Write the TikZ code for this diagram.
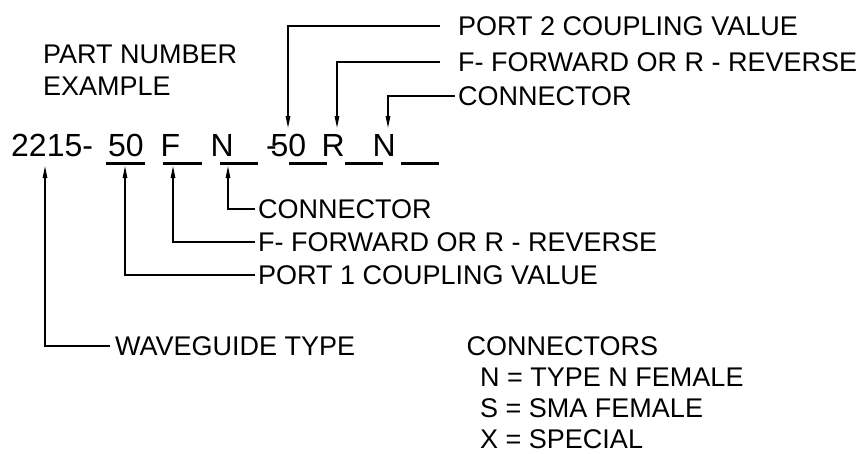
\documentclass[tikz,border=0pt]{standalone}
\usepackage{fontspec}
\setmainfont{Liberation Sans}
\usetikzlibrary{positioning, arrows.meta}

\begin{document}
\begin{tikzpicture}[
    x=1pt, y=-1pt,
    partno/.style = {anchor=base west, inner sep=0pt, font=\fontsize{32}{36}\selectfont},
    callout/.style = {anchor=west, inner sep=0pt, text height=19.5pt, text depth=0pt, font=\fontsize{27}{32}\selectfont},
    uline/.style = {line width=3pt},
    leader/.style = {{Triangle[length=12pt, width=4.5pt]}-, line width=1.3pt}
]
\useasboundingbox (0,0) rectangle (867,453);

% Heading
\node[callout, anchor=north west, align=left, font=\fontsize{27}{32}\selectfont, text height=] (heading) at (43,45) {PART NUMBER\\EXAMPLE};

% Part number, piece by piece on one baseline
\node[partno] (num) at (11,156) {2215-};
\node[partno] (port1val) at (108,156) {50};
\node[partno] (dir1) at (160.5,156) {F};
\node[partno] (conn1) at (210.5,156) {N};
\node[partno] (dash2) at (266,156) {-};
\node[partno] (port2val) at (270.5,156) {50};
\node[partno] (dir2) at (321.5,156) {R};
\node[partno] (conn2) at (372.5,156) {N};

% Blanks under the part number
\draw[uline] (106,163) -- (145,163);
\draw[uline] (163,163) -- (202,163);
\draw[uline] (220,163) -- (258,163);
\draw[uline] (289,163) -- (327,163);
\draw[uline] (345,163) -- (383,163);
\draw[uline] (401,163) -- (439,163);

% Arrow tips at the blanks
\coordinate (wgtip) at (45,166);
\coordinate (p1tip) at (125,166);
\coordinate (f1tip) at (173,166);
\coordinate (c1tip) at (228,166);
\coordinate (p2tip) at (288,128);
\coordinate (f2tip) at (337,128);
\coordinate (c2tip) at (388,128);

% Callouts above
\node[callout] (port2) at (458,26) {PORT 2 COUPLING VALUE};
\node[callout] (fwdrev2) at (458,62) {F- FORWARD OR R - REVERSE};
\node[callout] (connector2) at (458,96) {CONNECTOR};

% Callouts below
\node[callout] (connector1) at (258,209) {CONNECTOR};
\node[callout] (fwdrev1) at (258,242) {F- FORWARD OR R - REVERSE};
\node[callout] (port1) at (258,275) {PORT 1 COUPLING VALUE};
\node[callout] (wgtype) at (115,346) {WAVEGUIDE TYPE};

% Connector key
\node[callout] (key) at (466.5,346) {CONNECTORS};
\node[callout, below=11pt of key.south west, anchor=north west, xshift=13.5pt] (typen) {N = TYPE N FEMALE};
\node[callout, below=11pt of typen.south west, anchor=north west] (sma) {S = SMA FEMALE};
\node[callout, below=11pt of sma.south west, anchor=north west] (special) {X = SPECIAL};

% Leaders
\draw[leader, shorten >=18pt] (p2tip) |- (port2.west);
\draw[leader, shorten >=18pt] (f2tip) |- (fwdrev2.west);
\draw[leader, shorten >=3pt] (c2tip) |- (connector2.west);
\draw[leader, shorten >=3pt] (c1tip) |- (connector1.west);
\draw[leader, shorten >=3pt] (f1tip) |- (fwdrev1.west);
\draw[leader, shorten >=3pt] (p1tip) |- (port1.west);
\draw[leader, shorten >=5pt] (wgtip) |- (wgtype.west);

\end{tikzpicture}
\end{document}
